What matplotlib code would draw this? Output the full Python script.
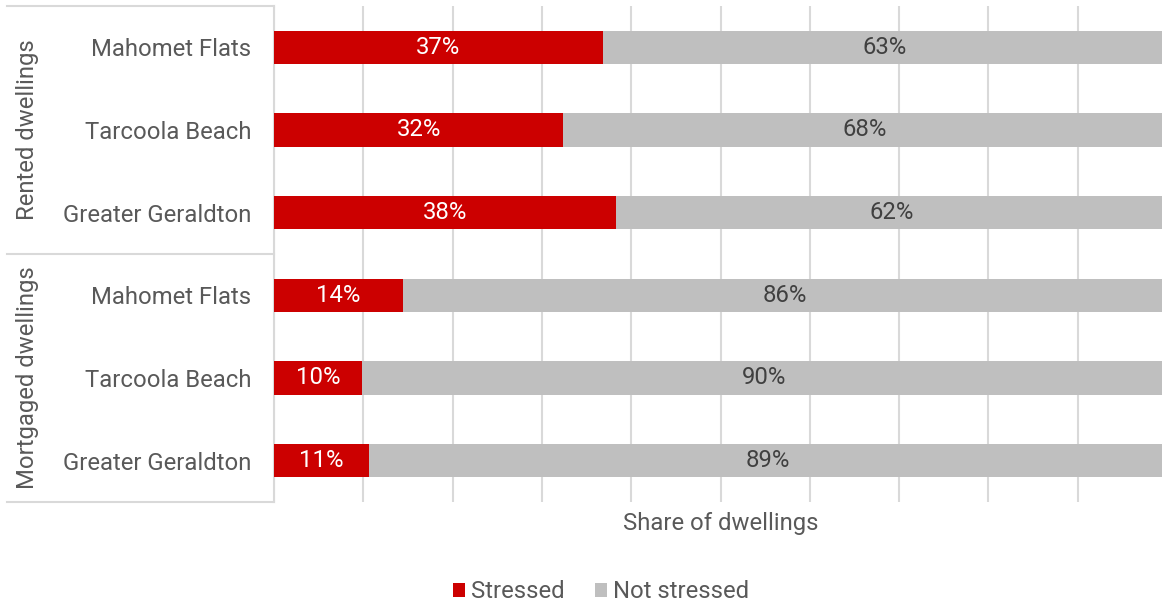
import matplotlib
matplotlib.use("Agg")
import matplotlib.pyplot as plt
from matplotlib.lines import Line2D
from matplotlib.patches import Patch

plt.rcParams['font.family'] = ['Roboto', 'DejaVu Sans']

groups = ["Rented dwellings", "Mortgaged dwellings"]
regions = ["Mahomet Flats", "Tarcoola Beach", "Greater Geraldton"]
stressed = [36.8, 32.4, 38.3, 14.4, 9.8, 10.6]
not_stressed = [63.2, 67.6, 61.7, 85.6, 90.2, 89.4]
series_names = ["Stressed", "Not stressed"]
colors = ["#CC0000", "#BFBFBF"]

FS = 17.2
W, H = 1162, 605
fig = plt.figure(figsize=(W / 100, H / 100), dpi=100)
ax_left, ax_right, ax_top, ax_bot = 274, 1167, 6, 502
ax = fig.add_axes([ax_left / W, 1 - ax_bot / H, (ax_right - ax_left) / W, (ax_bot - ax_top) / H])

labels = regions * len(groups)
y = list(range(len(labels)))
b1 = ax.barh(y, stressed, height=0.4, color=colors[0], zorder=3)
b2 = ax.barh(y, not_stressed, left=stressed, height=0.4, color=colors[1], zorder=3)
ax.bar_label(b1, labels=[f"{v:.0f}%" for v in stressed], label_type='center', color='white', fontsize=FS)
ax.bar_label(b2, labels=[f"{v:.0f}%" for v in not_stressed], label_type='center', color='#404040', fontsize=FS)

ax.set_xlim(0, 100)
ax.set_ylim(len(labels) - 0.5, -0.5)
ax.set_xticks(range(0, 101, 10))
ax.set_xticklabels([])
ax.tick_params(axis='x', length=0)
ax.grid(axis='x', color='#D9D9D9', linewidth=1.5, zorder=0)
ax.set_yticks(y)
ax.set_yticklabels(labels, fontsize=FS, color='#595959')
ax.tick_params(axis='y', length=0, pad=16.5)
for s in ['top', 'right', 'bottom']:
    ax.spines[s].set_visible(False)
ax.spines['left'].set_color('#D9D9D9')
ax.spines['left'].set_linewidth(1.5)
ax.set_xlabel("Share of dwellings", fontsize=FS, color='#595959', labelpad=4)

# group box lines
lc = '#D9D9D9'
for yy in [6, 254, 502]:
    fig.add_artist(Line2D([7 / W, ax_left / W], [1 - yy / H, 1 - yy / H], color=lc, lw=1.5))
for gi, g in enumerate(groups):
    yc = (6 + 248 * gi + 124)
    fig.text(28 / W, 1 - yc / H, g, rotation=90, ha='center', va='center', fontsize=FS, color='#595959')

handles = [Patch(facecolor=c, edgecolor='none') for c in colors]
fig.legend(handles, series_names, loc='center', bbox_to_anchor=(601 / W, 1 - 592 / H), ncol=2,
           frameon=False, fontsize=FS, labelcolor='#595959', handlelength=0.5, handleheight=0.5,
           handletextpad=0.25, columnspacing=1.3)

fig.savefig("out.png", dpi=100)
